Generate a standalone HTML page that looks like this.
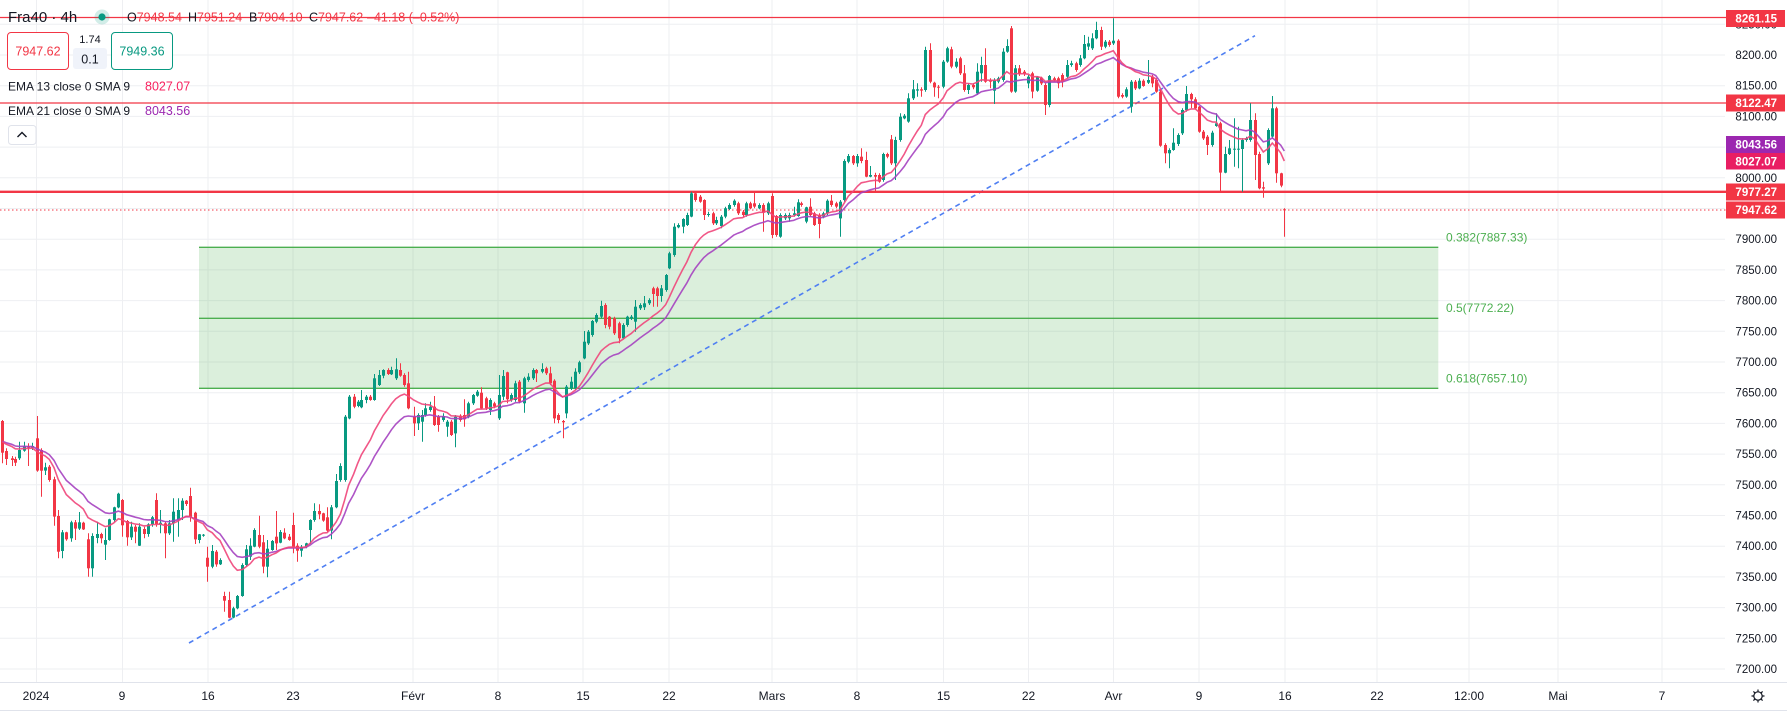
<!DOCTYPE html>
<html><head><meta charset="utf-8"><style>
html,body{margin:0;padding:0;background:#fff;overflow:hidden}
svg{display:block;font-family:"Liberation Sans",Arial,sans-serif}
</style></head><body>
<svg id="s" xmlns="http://www.w3.org/2000/svg" width="1787" height="711" viewBox="0 0 1787 711">
<rect width="1787" height="711" fill="#fff"/>
<g stroke="#eeeff2" stroke-width="1">
<line x1="0" x2="1725" y1="24.3" y2="24.3"/><line x1="0" x2="1725" y1="55" y2="55"/><line x1="0" x2="1725" y1="85.7" y2="85.7"/><line x1="0" x2="1725" y1="116.4" y2="116.4"/><line x1="0" x2="1725" y1="147.1" y2="147.1"/><line x1="0" x2="1725" y1="177.8" y2="177.8"/><line x1="0" x2="1725" y1="208.5" y2="208.5"/><line x1="0" x2="1725" y1="239.2" y2="239.2"/><line x1="0" x2="1725" y1="269.9" y2="269.9"/><line x1="0" x2="1725" y1="300.6" y2="300.6"/><line x1="0" x2="1725" y1="331.3" y2="331.3"/><line x1="0" x2="1725" y1="362" y2="362"/><line x1="0" x2="1725" y1="392.7" y2="392.7"/><line x1="0" x2="1725" y1="423.4" y2="423.4"/><line x1="0" x2="1725" y1="454.1" y2="454.1"/><line x1="0" x2="1725" y1="484.8" y2="484.8"/><line x1="0" x2="1725" y1="515.5" y2="515.5"/><line x1="0" x2="1725" y1="546.2" y2="546.2"/><line x1="0" x2="1725" y1="576.9" y2="576.9"/><line x1="0" x2="1725" y1="607.6" y2="607.6"/><line x1="0" x2="1725" y1="638.3" y2="638.3"/><line x1="0" x2="1725" y1="669" y2="669"/>
<line x1="36.5" x2="36.5" y1="0" y2="682"/><line x1="122.5" x2="122.5" y1="0" y2="682"/><line x1="208" x2="208" y1="0" y2="682"/><line x1="293" x2="293" y1="0" y2="682"/><line x1="413" x2="413" y1="0" y2="682"/><line x1="498" x2="498" y1="0" y2="682"/><line x1="583" x2="583" y1="0" y2="682"/><line x1="669" x2="669" y1="0" y2="682"/><line x1="772" x2="772" y1="0" y2="682"/><line x1="857" x2="857" y1="0" y2="682"/><line x1="943.5" x2="943.5" y1="0" y2="682"/><line x1="1028.5" x2="1028.5" y1="0" y2="682"/><line x1="1113.5" x2="1113.5" y1="0" y2="682"/><line x1="1199" x2="1199" y1="0" y2="682"/><line x1="1285" x2="1285" y1="0" y2="682"/><line x1="1377" x2="1377" y1="0" y2="682"/><line x1="1469" x2="1469" y1="0" y2="682"/><line x1="1558" x2="1558" y1="0" y2="682"/><line x1="1662" x2="1662" y1="0" y2="682"/>
</g>
<!-- Fib zone -->
<rect x="199" y="247.3" width="1239.3" height="141" fill="#4caf50" fill-opacity="0.2"/>
<g stroke="#4caf50" stroke-width="1.3">
<line x1="199" x2="1438.3" y1="247.3" y2="247.3"/>
<line x1="199" x2="1438.3" y1="318.3" y2="318.3"/>
<line x1="199" x2="1438.3" y1="388.3" y2="388.3"/>
</g>
<g fill="#4caf50" font-size="12">
<text x="1446" y="241.6">0.382(7887.33)</text>
<text x="1446" y="312">0.5(7772.22)</text>
<text x="1446" y="382.6">0.618(7657.10)</text>
</g>
<!-- trendline -->
<line x1="189" y1="643" x2="1255" y2="35.7" stroke="#4f7ff2" stroke-width="1.6" stroke-dasharray="5 4"/>
<!-- horizontal levels -->
<line x1="0" x2="1726" y1="17.5" y2="17.5" stroke="#f23645" stroke-width="1.2"/>
<line x1="0" x2="1726" y1="103" y2="103" stroke="#f23645" stroke-width="1.2"/>
<line x1="0" x2="1726" y1="191.8" y2="191.8" stroke="#f23645" stroke-width="2.4"/>
<line x1="0" x2="1726" y1="210" y2="210" stroke="#f23645" stroke-width="1" stroke-dasharray="1.5 2.5"/>
<g id="candles"></g>
<polyline id="e21" fill="none" stroke="#a541c0" stroke-opacity="0.9" stroke-width="1.6" points=""/>
<polyline id="e13" fill="none" stroke="#f0457a" stroke-opacity="0.9" stroke-width="1.6" points=""/>
<!-- header -->
<text x="8" y="22" font-size="15" fill="#131722">Fra40 · 4h</text>
<circle cx="102" cy="17" r="7.5" fill="#089981" fill-opacity="0.18"/>
<circle cx="102" cy="17" r="3.6" fill="#089981"/>
<g font-size="12.5">
<text x="127" y="21.5"><tspan fill="#131722">O</tspan><tspan fill="#f23645">7948.54</tspan></text>
<text x="188" y="21.5"><tspan fill="#131722">H</tspan><tspan fill="#f23645">7951.24</tspan></text>
<text x="249" y="21.5"><tspan fill="#131722">B</tspan><tspan fill="#f23645">7904.10</tspan></text>
<text x="309" y="21.5"><tspan fill="#131722">C</tspan><tspan fill="#f23645">7947.62</tspan></text>
<text x="367" y="21.5" fill="#f23645">–41.18 (–0.52%)</text>
</g>
<rect x="7.5" y="32.5" width="61" height="37" rx="3.5" fill="#fff" stroke="#f23645"/>
<text x="38" y="55.5" font-size="12.5" fill="#f23645" text-anchor="middle">7947.62</text>
<text x="90" y="43" font-size="11" fill="#131722" text-anchor="middle">1.74</text>
<rect x="73" y="48" width="34" height="21" rx="3" fill="#f0f3fa"/>
<text x="90" y="63.5" font-size="12.5" fill="#131722" text-anchor="middle">0.1</text>
<rect x="111.5" y="32.5" width="61" height="37" rx="3.5" fill="#fff" stroke="#089981"/>
<text x="142" y="55.5" font-size="12.5" fill="#089981" text-anchor="middle">7949.36</text>
<text x="8" y="90.3" font-size="12" fill="#131722">EMA 13 close 0 SMA 9</text>
<text x="145" y="90.3" font-size="12.5" fill="#f7215f">8027.07</text>
<text x="8" y="115" font-size="12" fill="#131722">EMA 21 close 0 SMA 9</text>
<text x="145" y="115" font-size="12.5" fill="#9c27b0">8043.56</text>
<rect x="8.5" y="125.5" width="27.5" height="19" rx="3" fill="#fff" stroke="#e0e3eb"/>
<path d="M17.5 137 L22 132.5 L26.5 137" fill="none" stroke="#131722" stroke-width="1.4"/>
<!-- price axis -->
<g font-size="11.5" fill="#131722" text-anchor="end">
<text x="1777" y="28.3">8250.00</text><text x="1777" y="59">8200.00</text><text x="1777" y="89.7">8150.00</text><text x="1777" y="120.4">8100.00</text><text x="1777" y="151.1">8050.00</text><text x="1777" y="181.8">8000.00</text><text x="1777" y="212.5">7950.00</text><text x="1777" y="243.2">7900.00</text><text x="1777" y="273.9">7850.00</text><text x="1777" y="304.6">7800.00</text><text x="1777" y="335.3">7750.00</text><text x="1777" y="366">7700.00</text><text x="1777" y="396.7">7650.00</text><text x="1777" y="427.4">7600.00</text><text x="1777" y="458.1">7550.00</text><text x="1777" y="488.8">7500.00</text><text x="1777" y="519.5">7450.00</text><text x="1777" y="550.2">7400.00</text><text x="1777" y="580.9">7350.00</text><text x="1777" y="611.6">7300.00</text><text x="1777" y="642.3">7250.00</text><text x="1777" y="673">7200.00</text>
</g>
<rect x="1726" y="10" width="59" height="17" fill="#f23645"/>
<rect x="1726" y="94.5" width="59" height="17" fill="#f23645"/>
<rect x="1726" y="136" width="59" height="17" fill="#9c27b0"/>
<rect x="1726" y="153" width="59" height="16.5" fill="#e91e63"/>
<rect x="1726" y="183.5" width="59" height="17" fill="#f23645"/>
<rect x="1726" y="201.5" width="59" height="17" fill="#f23645"/>
<g font-size="11.5" font-weight="bold" fill="#fff" text-anchor="end">
<text x="1777" y="22.5">8261.15</text>
<text x="1777" y="107">8122.47</text>
<text x="1777" y="148.5">8043.56</text>
<text x="1777" y="165.3">8027.07</text>
<text x="1777" y="196">7977.27</text>
<text x="1777" y="214">7947.62</text>
</g>
<!-- time axis -->
<rect x="0" y="682" width="1787" height="29" fill="#fff"/>
<line x1="0" x2="1787" y1="682.5" y2="682.5" stroke="#e0e3eb"/>
<line x1="0" x2="1787" y1="710.5" y2="710.5" stroke="#e0e3eb"/>
<g font-size="12" fill="#131722" text-anchor="middle">
<text x="36" y="700">2024</text><text x="122" y="700">9</text><text x="208" y="700">16</text><text x="293" y="700">23</text><text x="413" y="700">Févr</text><text x="498" y="700">8</text><text x="583" y="700">15</text><text x="669" y="700">22</text><text x="772" y="700">Mars</text><text x="857" y="700">8</text><text x="943.5" y="700">15</text><text x="1028.5" y="700">22</text><text x="1113.5" y="700">Avr</text><text x="1199" y="700">9</text><text x="1285" y="700">16</text><text x="1377" y="700">22</text><text x="1469" y="700">12:00</text><text x="1558" y="700">Mai</text><text x="1662" y="700">7</text>
</g>
<g stroke="#131722" stroke-width="1.2" fill="none">
<circle cx="1758" cy="696" r="4.2"/>
<path d="M1758 689.5V691.5M1758 700.5V702.5M1751.5 696H1753.5M1762.5 696H1764.5M1753.4 691.4L1754.8 692.8M1761.2 699.2L1762.6 700.6M1762.6 691.4L1761.2 692.8M1754.8 699.2L1753.4 700.6"/>
</g>
</svg>
<script>
(function(){
var D6=[[7,123,218,0,120,250],[19,213,237,0,205,255],[35,235,240,0,228,258],[46,237,248,0,230,258],[58,210,235,1,185,240],[72,198,212,1,185,215],[85,198,203,0,190,258],[97,198,203,1,188,210],[110,175,272,0,108,275],[123,210,272,0,205,350],[136,262,272,1,248,285],[148,260,300,0,255,305],[162,298,410,0,290,437],[175,408,515,0,390,535],[187,457,513,1,450,535],[199,457,478,0,455,482],[212,427,475,1,422,485],[226,427,446,0,420,480],[238,427,446,1,396,450],[250,428,448,0,425,450],[264,478,565,0,460,590],[277,468,565,1,460,590],[290,462,474,1,425,490],[303,462,475,0,458,490],[316,480,494,1,445,540],[328,418,480,1,416,482],[341,382,420,1,380,425],[355,341,382,1,338,385],[367,360,436,0,357,470],[380,423,472,0,420,497],[392,440,472,1,425,480],[406,440,455,0,435,490],[418,440,497,1,430,498],[431,447,462,0,440,475],[444,433,462,1,430,470],[457,412,433,1,408,440],[469,360,432,0,340,440],[481,428,433,1,390,460],[494,430,460,0,425,535],[507,430,460,1,420,465],[520,395,430,1,355,485],[533,390,420,1,355,470],[546,362,390,1,355,420],[558,362,372,0,360,378],[570,348,410,0,323,425],[585,398,478,0,395,492],[597,463,480,1,462,490],[609,464,467,1,462,470],[622,533,560,0,500,605],[637,513,560,1,495,565],[649,515,553,0,510,560],[660,540,553,1,535,555],[673,648,662,0,635,695],[687,660,713,0,635,715],[700,685,713,1,680,715],[712,648,685,1,645,688],[727,555,648,1,550,650],[739,508,555,1,495,560],[751,497,530,1,475,540],[763,450,500,1,445,502],[777,465,500,0,407,505],[790,487,560,0,465,580],[802,506,560,1,480,592],[815,483,510,1,480,512],[828,470,490,0,393,510],[841,456,488,1,450,490],[853,458,475,0,445,478],[866,470,480,0,462,482],[879,435,500,0,398,520],[892,497,512,0,490,545],[904,500,512,1,495,530],[917,490,500,1,488,505],[931,420,450,1,418,492],[943,393,420,1,370,425],[957,393,403,0,373,418],[969,400,422,0,398,425],[981,412,452,0,382,455],[993,382,452,1,375,478],[1008,303,382,1,282,385]];
var D7=[[113,888,930,1,880,935],[125,740,930,1,735,935],[136,680,745,1,675,748],[150,680,710,0,672,715],[161,695,708,1,690,712],[172,690,712,1,660,715],[186,680,690,1,675,700],[197,680,690,0,675,692],[208,625,690,1,612,692],[221,615,645,1,600,648],[233,600,617,1,598,625],[245,600,612,0,595,615],[256,600,613,1,590,615],[268,598,625,1,565,630],[281,600,617,0,580,620],[292,615,645,0,610,650],[303,640,715,0,605,718],[318,740,760,0,710,798],[330,735,760,1,730,780],[341,735,755,1,720,815],[351,715,735,1,700,740],[363,710,720,1,695,725],[376,710,765,0,678,768],[387,740,765,0,735,785],[399,738,750,1,730,755],[412,755,770,1,750,800],[423,755,795,0,750,798],[435,740,790,1,735,832],[447,737,750,0,733,755],[459,735,748,0,688,770],[470,700,740,1,695,745],[483,675,700,1,672,705],[496,665,677,1,660,680],[508,668,715,0,652,718],[520,685,715,0,680,720],[532,690,720,1,685,735],[543,700,710,0,695,715],[556,675,745,1,615,750],[567,618,680,1,600,690],[580,607,688,0,605,700],[591,675,690,1,670,695],[603,640,690,1,632,695],[614,635,695,0,630,700],[628,625,700,1,620,728],[639,620,630,1,610,635],[651,600,625,1,595,630],[662,600,610,0,597,636],[677,597,605,1,580,610],[688,595,610,0,590,615],[699,610,640,0,590,645],[712,632,745,0,628,760],[723,735,750,0,730,760],[735,753,757,0,750,805],[746,650,730,1,645,745],[758,635,655,1,620,660],[770,605,655,1,595,660],[782,577,607,1,572,612],[794,515,565,1,483,568],[806,485,520,1,480,525],[818,453,495,1,450,500],[830,435,455,1,430,460],[843,408,440,1,392,445],[855,405,465,0,400,475],[866,440,470,0,438,478],[878,445,490,0,440,495],[892,460,505,0,455,520],[903,465,505,1,460,508],[915,440,465,1,437,470],[927,440,445,1,435,450],[939,410,455,1,390,485],[951,405,415,1,400,420],[963,400,412,1,378,420],[976,390,400,1,385,405],[988,355,372,0,350,410],[1000,355,378,0,350,410],[1012,355,378,1,345,395],[1024,315,360,1,312,365],[1034,250,295,1,245,298],[1047,170,255,1,160,260],[1059,165,172,1,160,175],[1071,147,170,1,145,190],[1083,135,165,1,128,168],[1095,70,140,1,65,142],[1107,70,90,0,65,95],[1120,80,95,0,75,98],[1130,90,135,0,88,150],[1143,132,135,1,125,140],[1155,130,160,0,125,165],[1166,150,160,1,140,165],[1178,140,168,1,135,175],[1190,115,140,1,110,145],[1202,105,117,1,100,120],[1214,92,105,1,88,110],[1226,100,130,0,95,135],[1239,125,135,0,120,140],[1250,100,135,1,95,140],[1261,100,115,0,95,118],[1272,100,110,0,68,115],[1286,105,115,1,100,118],[1297,105,128,0,100,185],[1310,100,130,1,95,135],[1322,78,195,0,70,205],[1333,138,195,0,135,200],[1345,135,200,1,130,203],[1357,135,145,1,130,150],[1370,135,145,1,128,155],[1382,130,135,1,110,140],[1393,97,138,1,88,140],[1404,100,105,0,95,110],[1417,112,155,1,110,160],[1429,110,135,0,85,140],[1440,130,165,0,125,168],[1453,135,162,0,130,205],[1465,130,140,1,125,145],[1476,92,130,1,88,135],[1488,92,105,0,75,110],[1500,100,110,0,95,115],[1512,95,145,1,90,200]];
var D8=[[13,483,600,1,478,605],[25,468,485,1,462,490],[39,468,490,0,465,495],[52,468,490,1,462,500],[64,470,483,0,445,490],[78,480,530,0,455,532],[91,525,530,1,498,532],[104,525,530,0,518,575],[116,525,545,0,520,548],[130,462,540,1,458,545],[141,462,470,0,458,475],[154,418,490,0,405,495],[166,420,490,1,410,540],[181,350,420,1,340,425],[193,347,355,1,342,358],[205,295,365,1,280,368],[219,268,295,1,240,300],[232,268,272,1,250,290],[244,268,272,0,262,290],[256,150,270,1,140,275],[270,150,245,0,130,250],[283,248,262,0,245,290],[295,260,262,0,255,295],[310,185,260,1,180,265],[321,145,185,1,140,188],[334,148,200,0,140,205],[347,185,200,1,175,205],[360,175,220,0,170,225],[372,220,270,0,195,275],[385,255,270,1,250,282],[398,255,262,0,250,268],[411,215,280,1,190,285],[424,195,220,1,170,245],[436,195,245,0,145,248],[450,240,245,0,235,265],[462,240,272,1,235,312],[475,235,245,1,230,250],[488,155,240,1,145,245],[500,138,155,1,118,158],[513,85,275,0,78,278],[526,205,275,1,195,278],[538,205,222,0,195,228],[551,215,222,0,210,228],[565,230,250,1,225,265],[577,220,275,0,215,295],[592,230,272,1,228,275],[604,233,250,0,230,255],[616,255,315,0,250,345],[628,228,315,1,225,322],[641,235,240,0,230,245],[654,235,250,0,230,265],[667,225,245,0,220,262],[680,195,230,1,180,235],[693,190,195,1,182,200],[707,190,210,0,185,215],[719,175,195,1,165,200],[732,132,175,1,105,178],[745,130,140,1,110,150],[757,115,145,1,100,150],[769,90,115,1,65,118],[783,90,140,0,80,150],[796,125,140,1,120,145],[808,125,135,0,120,140],[820,122,130,1,55,135],[833,122,290,0,118,295],[846,285,290,0,280,295],[859,268,290,1,262,293],[873,245,320,1,240,338],[886,245,265,0,240,270],[898,242,265,1,235,268],[910,242,258,0,238,260],[923,240,248,1,180,252],[937,230,250,0,225,262],[947,240,275,0,235,278],[961,275,437,0,270,440],[975,435,460,0,430,490],[988,450,460,1,445,505],[1000,428,450,1,385,452],[1015,405,432,1,400,438],[1027,330,400,1,325,405],[1039,282,330,1,258,335],[1052,282,298,0,278,325],[1066,298,325,0,292,328],[1078,320,395,0,318,398],[1090,395,415,0,390,420],[1102,410,435,0,405,465],[1117,398,435,1,392,440],[1129,370,378,1,340,380],[1141,370,518,0,365,575],[1156,462,518,1,440,520],[1168,445,462,1,420,465],[1181,446,449,1,355,500],[1193,446,449,1,380,505],[1207,420,447,1,415,575],[1218,415,420,1,410,425],[1231,360,420,1,310,425],[1244,360,465,0,340,540],[1258,462,565,0,455,568],[1270,562,566,0,545,593],[1283,390,490,1,385,495],[1297,325,410,1,288,415],[1309,325,520,0,320,548],[1322,520,557,0,518,562],[1333,628,630,0,625,710]];
var sets=[[0,380,3,3,D6],[300,170,2.8,3,D7],[840,0,3,3,D8]];
var bars=[];
sets.forEach(function(s){s[4].forEach(function(b){
 var t=s[1]+b[1]/s[3], bo=s[1]+b[2]/s[3];
 bars.push({x:s[0]+b[0]/s[2],t:t,b:bo,g:b[3],wt:Math.min(t,s[1]+b[4]/s[3]),wb:Math.max(bo,s[1]+b[5]/s[3])});
});});
var h='';
bars.forEach(function(b){
 var cx=Math.round(b.x), col=b.g?'#089981':'#f23645', hh=Math.max(1,b.b-b.t);
 h+='<line x1="'+(cx+0.5)+'" x2="'+(cx+0.5)+'" y1="'+b.wt.toFixed(1)+'" y2="'+b.wb.toFixed(1)+'" stroke="'+col+'" stroke-width="1"/>';
 h+='<rect x="'+(cx-1)+'" y="'+b.t.toFixed(1)+'" width="3" height="'+hh.toFixed(1)+'" fill="'+col+'"/>';
});
document.getElementById('candles').innerHTML=h;
var e13=440,e21=440,a13=2/14,a21=2/22,p13=[],p21=[];
bars.forEach(function(b){
 var c=b.g?b.t:b.b;
 e13+=a13*(c-e13); e21+=a21*(c-e21);
 p13.push(b.x.toFixed(1)+','+e13.toFixed(1));
 p21.push(b.x.toFixed(1)+','+e21.toFixed(1));
});
document.getElementById('e13').setAttribute('points',p13.join(' '));
document.getElementById('e21').setAttribute('points',p21.join(' '));
})();
</script>
</body></html>
